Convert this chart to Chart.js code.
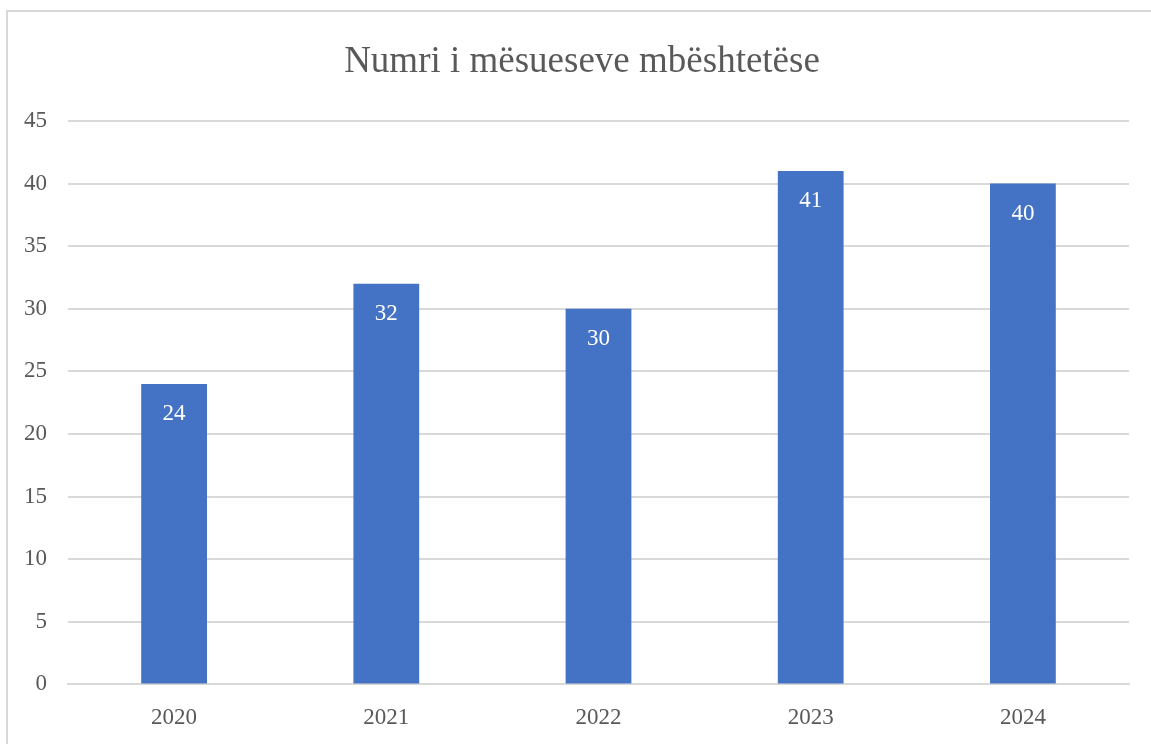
<!DOCTYPE html>
<html>
<head>
<meta charset="utf-8">
<script src="https://cdn.jsdelivr.net/npm/chart.js@4.4.1/dist/chart.umd.min.js"></script>
<style>
  html, body { margin: 0; padding: 0; background: #fff; overflow: hidden; }
  #frame { position: absolute; left: 6px; top: 10px; width: 1200px; height: 800px; border: 2px solid #d9d9d9; box-sizing: border-box; }
  #c { position: absolute; left: 0; top: 0; }
</style>
</head>
<body>
<div id="frame"></div>
<canvas id="c" width="1151" height="744"></canvas>
<script>
const years = ['2020', '2021', '2022', '2023', '2024'];
const teachers = [24, 32, 30, 41, 40];
const chartTitle = 'Numri i mësueseve mbështetëse';

const serif = '"Liberation Serif", "Times New Roman", serif';
const grey = '#595959';

// title drawn by hand so it sits where the original one does
const titleText = {
    id: 'titleText',
    afterDraw(chart) {
        const ctx = chart.ctx;
        ctx.save();
        ctx.fillStyle = grey;
        ctx.font = '37px ' + serif;
        ctx.textAlign = 'center';
        ctx.textBaseline = 'middle';
        ctx.fillText(chartTitle, 582, 62);
        ctx.restore();
    }
};

// white value labels just under the top of each bar
const barLabels = {
    id: 'barLabels',
    afterDatasetsDraw(chart) {
        const ctx = chart.ctx;
        const meta = chart.getDatasetMeta(0);
        ctx.save();
        ctx.fillStyle = '#ffffff';
        ctx.font = '23px ' + serif;
        ctx.textAlign = 'center';
        ctx.textBaseline = 'middle';
        meta.data.forEach((bar, i) => {
            ctx.fillText(teachers[i], bar.x, bar.y + 30);
        });
        ctx.restore();
    }
};

new Chart(document.getElementById('c'), {
    type: 'bar',
    data: {
        labels: years,
        datasets: [{
            data: teachers,
            backgroundColor: '#4472c4',
            borderWidth: 0,
            categoryPercentage: 1,
            barPercentage: 0.31
        }]
    },
    options: {
        responsive: false,
        animation: false,
        layout: { padding: { left: 0, right: 22, top: 121, bottom: 0 } },
        scales: {
            x: {
                grid: { display: false },
                border: { color: '#d9d9d9', width: 2 },
                ticks: { color: grey, font: { family: serif, size: 23 }, padding: 12 }
            },
            y: {
                min: 0,
                max: 45,
                ticks: { stepSize: 5, color: grey, font: { family: serif, size: 23 }, padding: 21 },
                grid: { color: '#d9d9d9', lineWidth: 2, drawTicks: false },
                border: { display: false },
                afterFit(scale) { scale.width = 68; }
            }
        },
        plugins: {
            legend: { display: false },
            tooltip: { enabled: false },
            title: { display: false }
        }
    },
    plugins: [barLabels, titleText]
});
</script>
</body>
</html>
